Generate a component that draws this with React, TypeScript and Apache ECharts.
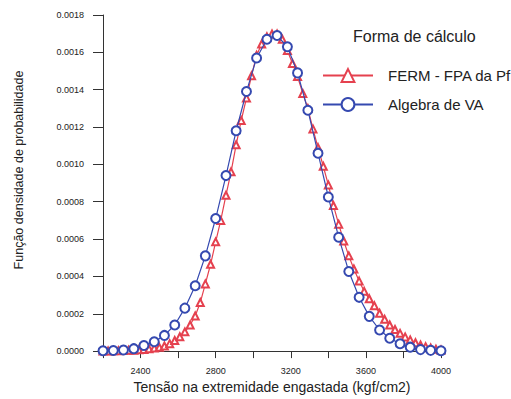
import React, { useEffect, useRef } from "react";
import * as echarts from "echarts";

const blueX = [2200, 2255, 2309, 2364, 2418, 2473, 2527, 2582, 2636, 2691, 2745, 2800, 2855, 2909, 2964, 3018, 3073, 3127, 3182, 3236, 3291, 3345, 3400, 3455, 3509, 3564, 3618, 3673, 3727, 3782, 3836, 3891, 3945, 4000];
const blueY = [0.000002, 0.000003, 0.000006, 0.000013, 0.00003, 0.00005, 0.000084, 0.00014, 0.00023, 0.00035, 0.00051, 0.00071, 0.00094, 0.00118, 0.00139, 0.00157, 0.00167, 0.00169, 0.00163, 0.00149, 0.00129, 0.00106, 0.000825, 0.00061, 0.000426, 0.000288, 0.000186, 0.000113, 0.000069, 0.000039, 0.000021, 0.000008, 0.000004, 0.000002];

const redX = [2200, 2227, 2255, 2282, 2309, 2336, 2364, 2391, 2418, 2445, 2473, 2500, 2527, 2555, 2582, 2609, 2636, 2664, 2691, 2718, 2745, 2773, 2800, 2827, 2855, 2882, 2909, 2936, 2964, 2991, 3018, 3045, 3073, 3100, 3127, 3155, 3182, 3209, 3236, 3264, 3291, 3318, 3345, 3373, 3400, 3427, 3455, 3482, 3509, 3536, 3564, 3591, 3618, 3645, 3673, 3700, 3727, 3755, 3782, 3809, 3836, 3864, 3891, 3918, 3945, 3973, 4000];
const redY = [0.000001, 0.000001, 0.000002, 0.000002, 0.000003, 0.000004, 0.000005, 0.000007, 0.000009, 0.000012, 0.000016, 0.00002, 0.000027, 0.00004, 0.000057, 0.000077, 0.000103, 0.00014, 0.000188, 0.00026, 0.00036, 0.000465, 0.000585, 0.0007, 0.000835, 0.00096, 0.001105, 0.001235, 0.001355, 0.001475, 0.001585, 0.001645, 0.001683, 0.001698, 0.001698, 0.00167, 0.00161, 0.00154, 0.00147, 0.00138, 0.0013, 0.00119, 0.00109, 0.00099, 0.00089, 0.00078, 0.00068, 0.00059, 0.00051, 0.00044, 0.000375, 0.00032, 0.00028, 0.000243, 0.000203, 0.00017, 0.00014, 0.000116, 0.000095, 0.000076, 0.00006, 0.000045, 0.000033, 0.000024, 0.000017, 0.00001, 0.000006];

const xTickLabels = [2400, 2800, 3200, 3600, 4000];
const seriesNames = ["FERM - FPA da Pf", "Algebra de VA"];
const legendTitle = "Forma de cálculo";
const xTitle = "Tensão na extremidade engastada (kgf/cm2)";
const yTitle = "Função densidade de probabilidade";

const FONT = "Liberation Sans, Arial, sans-serif";
const RED = "#e5414f";
const BLUE = "#3549b0";

export default function App() {
  const ref = useRef<HTMLDivElement>(null);
  useEffect(() => {
    if (!ref.current) return;
    const chart = echarts.init(ref.current, null, { renderer: "svg" });
    chart.setOption({
      animation: false,
      backgroundColor: "#ffffff",
      textStyle: { fontFamily: FONT },
      grid: { left: 103, top: 15, width: 338, height: 338, containLabel: false },
      title: {
        text: legendTitle,
        left: 348,
        top: 23,
        textStyle: { fontFamily: FONT, fontSize: 16, fontWeight: "normal", color: "#222" },
      },
      graphic: [
        {
          type: "text",
          x: 12,
          y: 170,
          rotation: Math.PI / 2,
          style: {
            text: yTitle,
            fontFamily: FONT,
            fontSize: 12.5,
            fill: "#222",
            align: "center",
            verticalAlign: "top",
          },
        },
      ],
      legend: {
        orient: "vertical",
        left: 317,
        top: 63,
        itemWidth: 50,
        itemHeight: 16,
        itemGap: 14,
        textStyle: { fontFamily: FONT, fontSize: 15, color: "#222", padding: [0, 0, 0, 10] },
        data: seriesNames,
      },
      xAxis: {
        type: "value",
        min: 2200,
        max: 4000,
        interval: 200,
        name: xTitle,
        nameLocation: "middle",
        nameGap: 28,
        nameTextStyle: { fontFamily: FONT, fontSize: 14, color: "#222" },
        splitLine: { show: false },
        axisLine: { lineStyle: { color: "#333", width: 1 } },
        axisTick: { length: 7, lineStyle: { color: "#333" } },
        axisLabel: {
          fontFamily: FONT,
          fontSize: 9,
          color: "#222",
          margin: 15,
          formatter: (v: number) => (xTickLabels.includes(Math.round(v)) ? String(Math.round(v)) : ""),
        },
      },
      yAxis: {
        type: "value",
        min: 0,
        max: 0.0018,
        interval: 0.0002,
        splitLine: { show: false },
        axisLine: { show: true, lineStyle: { color: "#333", width: 1 } },
        axisTick: { show: true, length: 10, lineStyle: { color: "#333" } },
        axisLabel: {
          fontFamily: FONT,
          fontSize: 9,
          color: "#222",
          margin: 19,
          formatter: (v: number) => v.toFixed(4),
        },
      },
      series: [
        {
          name: seriesNames[0],
          type: "line",
          data: redX.map((x, i) => [x, redY[i]]),
          symbol: "emptyTriangle",
          symbolSize: 7,
          showAllSymbol: true,
          lineStyle: { color: RED, width: 1.2 },
          itemStyle: { color: RED, borderColor: RED, borderWidth: 1 },
          z: 2,
        },
        {
          name: seriesNames[1],
          type: "line",
          data: blueX.map((x, i) => [x, blueY[i]]),
          symbol: "emptyCircle",
          symbolSize: 9,
          showAllSymbol: true,
          lineStyle: { color: BLUE, width: 1.2 },
          itemStyle: { color: BLUE, borderColor: BLUE, borderWidth: 1.2 },
          z: 3,
        },
      ],
    });
    return () => chart.dispose();
  }, []);
  return <div ref={ref} style={{ width: 511, height: 399, position: "absolute", left: 0, top: 0 }} />;
}
